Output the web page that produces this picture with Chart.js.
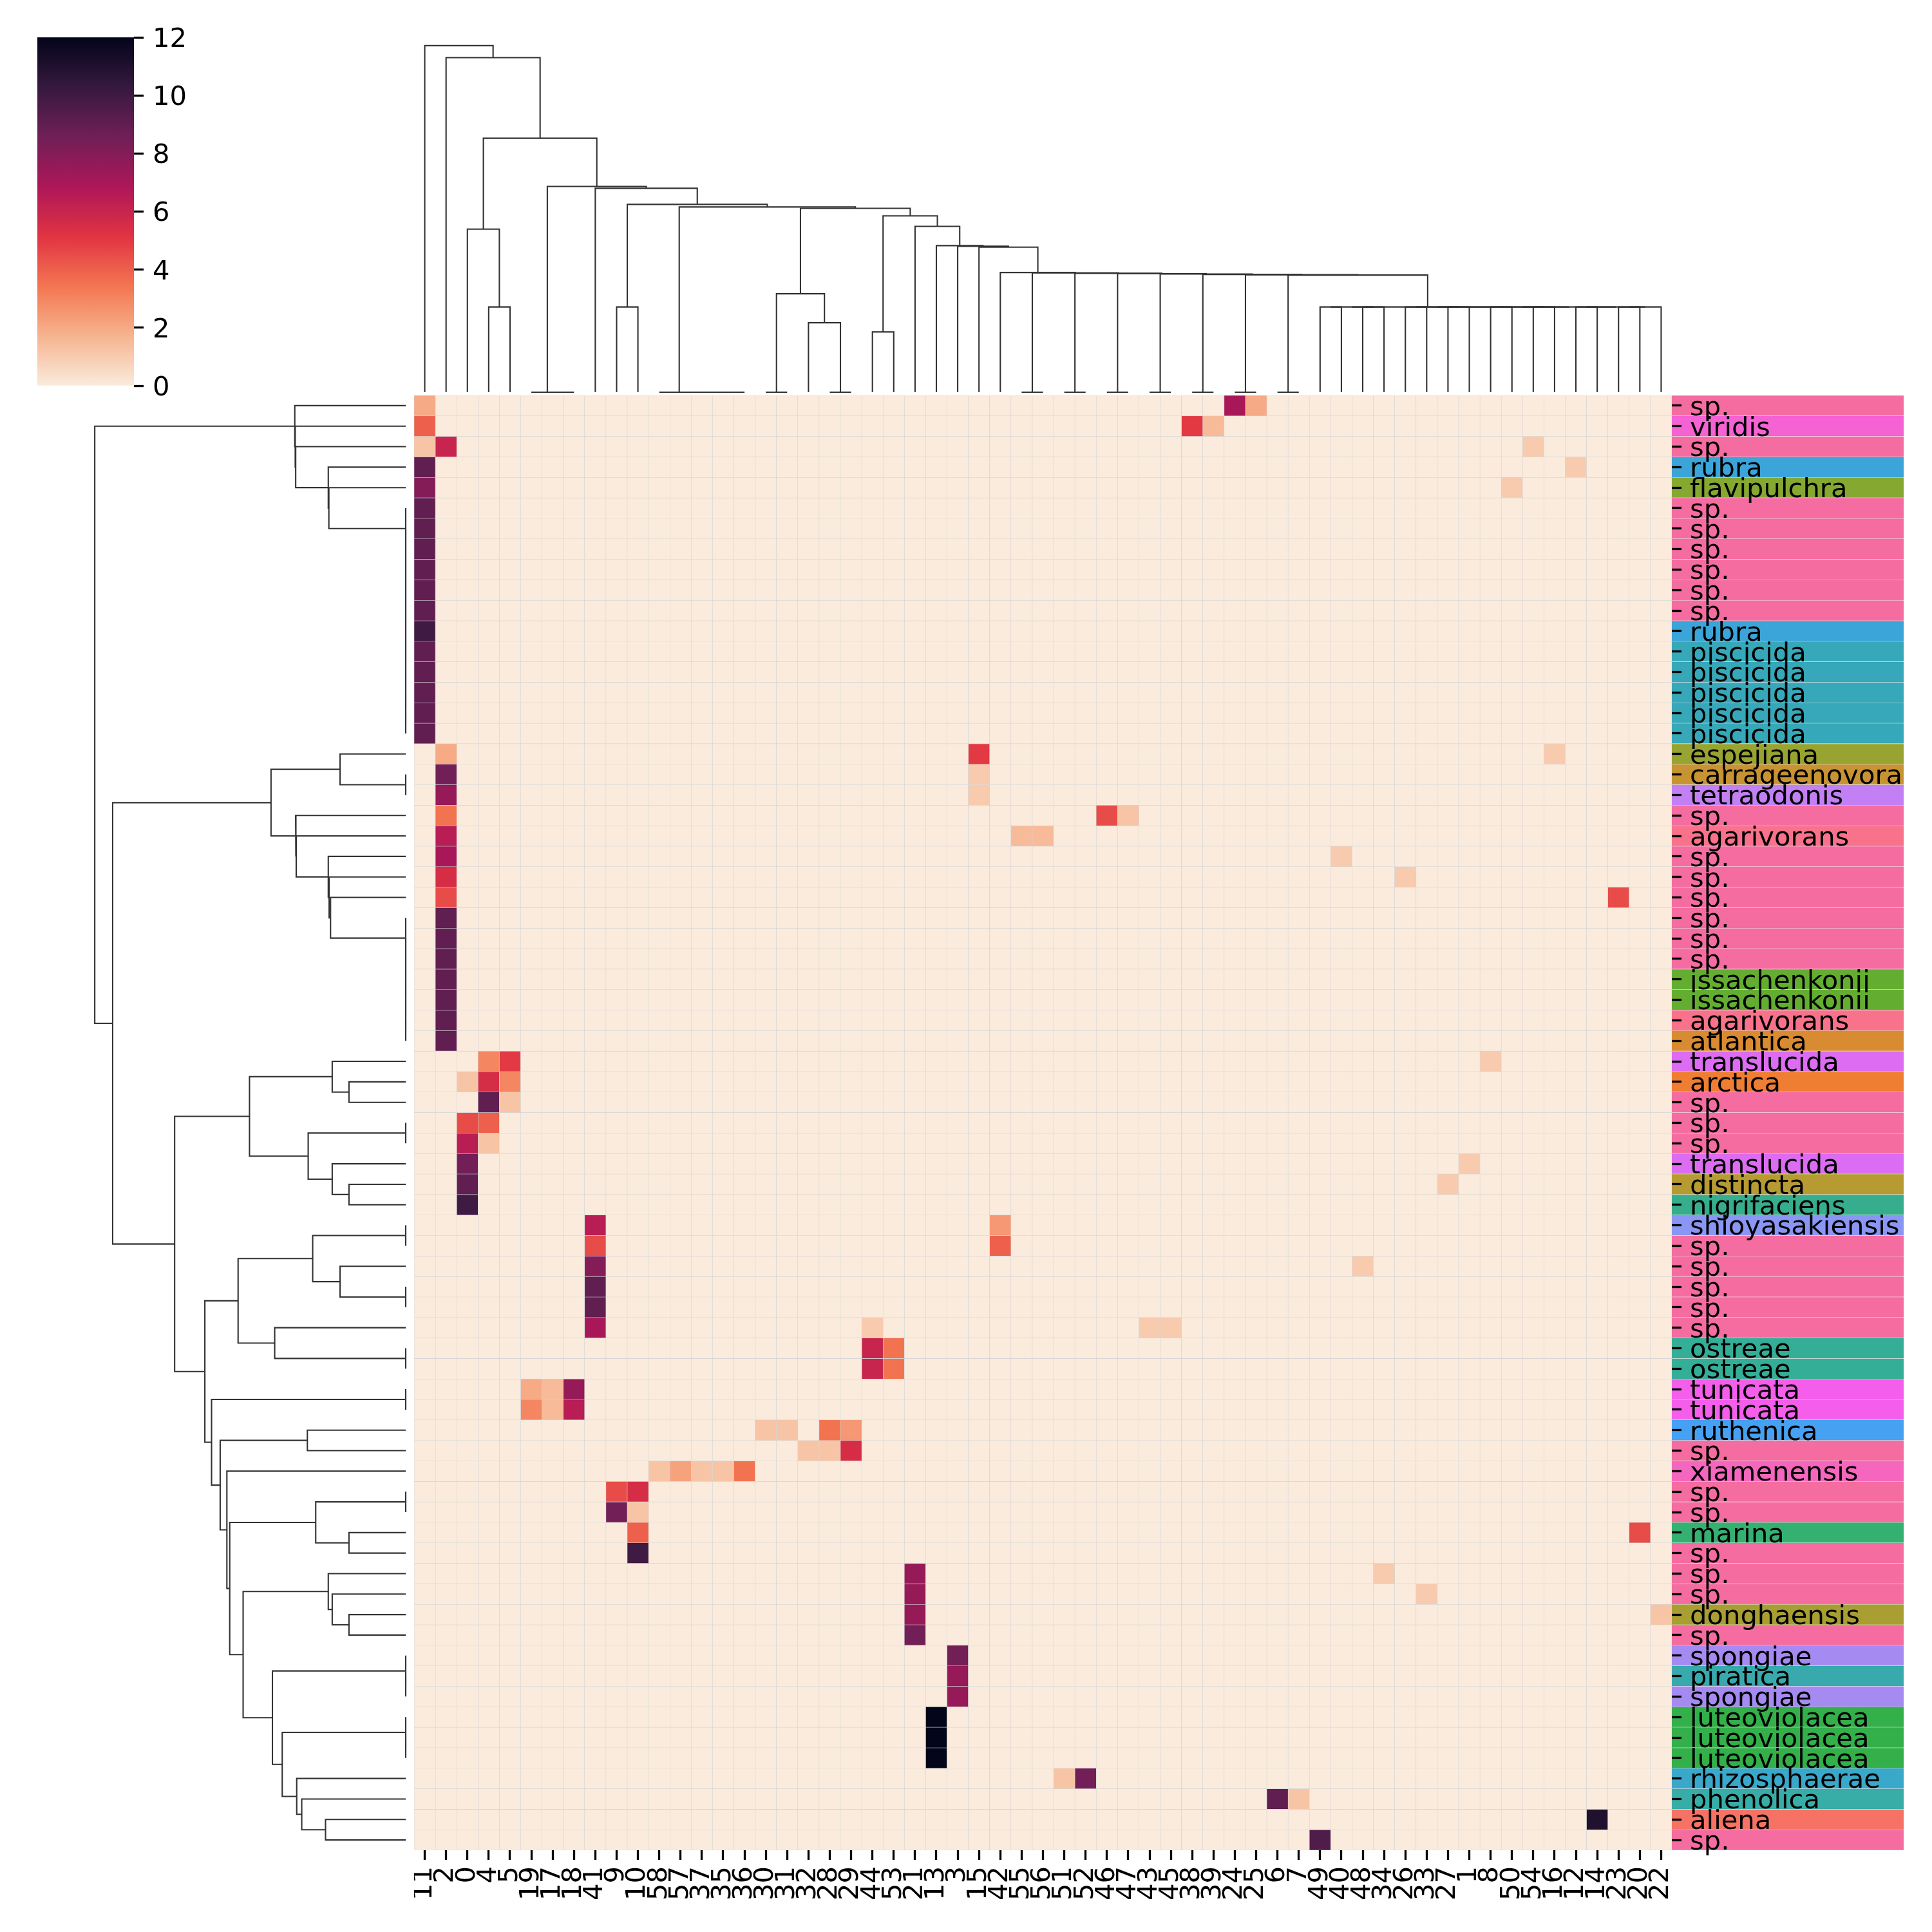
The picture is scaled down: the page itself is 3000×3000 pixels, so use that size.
<!DOCTYPE html>
<html><head><meta charset="utf-8">
<script src="https://cdn.jsdelivr.net/npm/chart.js@4.4.1/dist/chart.umd.min.js"></script>
<style>
html,body{margin:0;padding:0;background:#fff;}
#wrap{position:relative;width:3000px;height:3000px;background:#fff;overflow:hidden;}
canvas{position:absolute;}
</style></head><body><div id="wrap">
<canvas id="strip" style="left:2596px;top:614px" width="360" height="2259"></canvas>
<canvas id="heat" style="left:643px;top:614px" width="2357" height="2386"></canvas>
<canvas id="coldend" style="left:643px;top:44px" width="1953" height="568"></canvas>
<canvas id="rowdend" style="left:123px;top:614px" width="510" height="2259"></canvas>
<canvas id="cbar" style="left:58px;top:0px" width="300" height="640"></canvas>
</div>
<script>
// ---------------- DATA ----------------
const colLabels = ['11','2','0','4','5','19','17','18','41','9','10','58','57','37','35','36','30','31','32','28','29','44','53','21','13','3','15','42','55','56','51','52','46','47','43','45','38','39','24','25','6','7','49','40','48','34','26','33','27','1','8','50','54','16','12','14','23','20','22'];

const rowLabels = ['sp.','viridis','sp.','rubra','flavipulchra','sp.','sp.','sp.','sp.','sp.','sp.','rubra','piscicida','piscicida','piscicida','piscicida','piscicida','espejiana','carrageenovora','tetraodonis','sp.','agarivorans','sp.','sp.','sp.','sp.','sp.','sp.','issachenkonii','issachenkonii','agarivorans','atlantica','translucida','arctica','sp.','sp.','sp.','translucida','distincta','nigrifaciens','shioyasakiensis','sp.','sp.','sp.','sp.','sp.','ostreae','ostreae','tunicata','tunicata','ruthenica','sp.','xiamenensis','sp.','sp.','marina','sp.','sp.','sp.','donghaensis','sp.','spongiae','piratica','spongiae','luteoviolacea','luteoviolacea','luteoviolacea','rhizosphaerae','phenolica','aliena','sp.'];

const speciesColors = {
  'sp.':'#f56ca0','viridis':'#f562d4','rubra':'#3ba4d9','flavipulchra':'#85a831','piscicida':'#37a8b9',
  'espejiana':'#98a431','carrageenovora':'#c89433','tetraodonis':'#c280f4','agarivorans':'#f7728a',
  'issachenkonii':'#63ae31','atlantica':'#d98b32','translucida':'#dc6cf2','arctica':'#ef7e33',
  'distincta':'#b69b33','nigrifaciens':'#36ae8d','shioyasakiensis':'#8996f4','ostreae':'#35ae97',
  'tunicata':'#f45eeb','ruthenica':'#47a1f2','xiamenensis':'#f567bf','marina':'#34b071',
  'donghaensis':'#a89e32','spongiae':'#a58af2','piratica':'#38aaae','luteoviolacea':'#33b04a',
  'rhizosphaerae':'#3aa8ca','phenolica':'#38ada7','aliena':'#f67264'
};

// non-zero cells: [row, column position, value]
const cellValues = [
 [0,0,2],[0,38,7],[0,39,2],
 [1,0,4],[1,36,5],[1,37,1.5],
 [2,0,1.2],[2,1,6],[2,52,1],
 [3,0,9],[3,54,1],
 [4,0,8],[4,51,1],
 [5,0,9],[6,0,9],[7,0,9],[8,0,9],[9,0,9],[10,0,9],
 [11,0,10],
 [12,0,9],[13,0,9],[14,0,9],[15,0,9],[16,0,9],
 [17,1,2],[17,26,5],[17,53,1],
 [18,1,8.5],[18,26,1],
 [19,1,7.5],[19,26,1],
 [20,1,3.5],[20,32,4.5],[20,33,1.2],
 [21,1,6.5],[21,28,1.5],[21,29,1.5],
 [22,1,7],[22,43,1],
 [23,1,5.5],[23,46,1],
 [24,1,4.5],[24,56,4.5],
 [25,1,9],[26,1,9],[27,1,9],[28,1,9],[29,1,9],[30,1,9],[31,1,9],
 [32,3,3],[32,4,5],[32,50,1],
 [33,2,1.2],[33,3,5.5],[33,4,3],
 [34,3,9],[34,4,1.2],
 [35,2,4.5],[35,3,4],
 [36,2,6.5],[36,3,1.2],
 [37,2,8.5],[37,49,1],
 [38,2,9],[38,48,1],
 [39,2,10],
 [40,8,6.5],[40,27,2.5],
 [41,8,4.5],[41,27,4],
 [42,8,8],[42,44,1],
 [43,8,9],[44,8,9],
 [45,8,7],[45,21,1],[45,34,1],[45,35,1],
 [46,21,6],[46,22,3.5],
 [47,21,6],[47,22,3.5],
 [48,5,2],[48,6,1.5],[48,7,7.5],
 [49,5,3],[49,6,1.5],[49,7,6.5],
 [50,16,1.2],[50,17,1.2],[50,19,3.5],[50,20,2.5],
 [51,18,1.2],[51,19,1.2],[51,20,5.5],
 [52,11,1.2],[52,12,2.2],[52,13,1.2],[52,14,1.2],[52,15,3.5],
 [53,9,4.5],[53,10,5.5],
 [54,9,8.5],[54,10,1.2],
 [55,10,4],[55,57,4.5],
 [56,10,10],
 [57,23,7.5],[57,45,1],
 [58,23,7.5],[58,47,1],
 [59,23,7.5],[59,58,1.2],
 [60,23,8.5],
 [61,25,8.5],[62,25,7.5],[63,25,7.5],
 [64,24,12],[65,24,12],[66,24,12],
 [67,30,1.2],[67,31,8.5],
 [68,40,9],[68,41,1.2],
 [69,55,11],
 [70,42,9.5]
];

const cbarTicks = [0,2,4,6,8,10,12];
const cbarMin = 0, cbarMax = 12;

// dendrograms: [mergeHeight, left, right]; integers are leaf positions
const colFlat17 = [1.323,[1.323,[1.323,42,43],[1.323,44,45]],[1.323,[1.323,[1.323,46,47],[1.323,48,49]],[1.323,[1.323,[1.323,50,51],[1.323,52,53]],[1.323,[1.323,54,55],[1.323,[1.323,56,57],58]]]]];
const colChain = [1.851,[0,28,29],[1.845,[0,30,31],[1.839,[0,32,33],[1.833,[0,34,35],[1.827,[0,36,37],[1.822,[0,38,39],[1.817,[0,40,41],colFlat17]]]]]]];
const colP = [2.572,23,[2.274,24,[2.264,25,[2.251,26,[1.857,27,colChain]]]]];
const colK = [2.853,[1.527,[0,16,17],[1.078,18,[0,19,20]]],[2.735,[0.935,21,22],colP]];
const colH = [2.914,[1.323,9,10],[2.874,[0,11,[0,12,[0,13,[0,14,15]]]],colK]];
const colE = [3.192,[0,5,[0,6,7]],[3.163,8,colH]];
const colTree = [5.376,0,[5.19,1,[3.94,[2.53,2,[1.323,3,4]],colE]]];

const rowFlat12 = [0,5,[0,6,[0,7,[0,8,[0,9,[0,10,[0,11,[0,12,[0,13,[0,14,[0,15,16]]]]]]]]]]];
const rowA = [1.722,0,[1.715,1,[1.708,2,[1.202,3,[1.193,4,rowFlat12]]]]];
const rowFlat7 = [0,25,[0,26,[0,27,[0,28,[0,29,[0,30,31]]]]]];
const rowB1 = [2.091,[1.019,17,[0,18,19]],[1.709,20,[1.70,21,[1.202,22,[1.189,23,[1.167,24,rowFlat7]]]]]];
const rowB2a = [2.425,[1.141,32,[0.881,33,34]],[1.514,[0,35,36],[1.141,37,[0.881,38,39]]]];
const rowB2b1 = [2.602,[1.444,[0,40,41],[1.019,42,[0,43,44]]],[2.034,45,[0,46,47]]];
const rowU2b = [2.069,[0,61,[0,62,63]],[1.917,[0,64,[0,65,66]],[1.692,67,[1.614,68,[1.245,69,70]]]]];
const rowU = [2.732,[1.397,[0,53,54],[0.881,55,56]],[2.524,[1.202,57,[1.141,58,[0.881,59,60]]],rowU2b]];
const rowB2b2 = [3.014,[0,48,49],[2.88,[1.527,50,51],[2.776,52,rowU]]];
const rowTree = [4.827,rowA,[4.549,rowB1,[3.587,rowB2a,[3.118,rowB2b1,rowB2b2]]]];

// ---------------- HELPERS ----------------
Chart.defaults.font.family = "'DejaVu Sans'";
Chart.defaults.font.size = 41.7;
Chart.defaults.color = '#000';
const FONT = {family:"'DejaVu Sans'", size:41.7};
const TREE_COLOR = '#333333';

const rocketStops = ['#03051a','#35193e','#701f57','#ad1759','#e13342','#f37651','#f6b48f','#faebdd'];
function hex2rgb(h){return [parseInt(h.slice(1,3),16),parseInt(h.slice(3,5),16),parseInt(h.slice(5,7),16)];}
function rocketR(v){
  const t = 1 - Math.max(0, Math.min(1, (v - cbarMin)/(cbarMax - cbarMin)));
  const n = rocketStops.length - 1;
  const i = Math.min(n - 1, Math.floor(t*n));
  const f = t*n - i;
  const a = hex2rgb(rocketStops[i]), b = hex2rgb(rocketStops[i+1]);
  const c = a.map((x,k)=>Math.round(x + (b[k]-x)*f));
  return `rgb(${c[0]},${c[1]},${c[2]})`;
}
function buildLinks(tree){
  const links = [];
  (function walk(node){
    if (typeof node === 'number') return {pos: node + 0.5, h: 0};
    const [h, a, b] = node;
    const L = walk(a), R = walk(b);
    links.push({x1:L.pos, h1:L.h, x2:R.pos, h2:R.h, h});
    return {pos:(L.pos + R.pos)/2, h};
  })(tree);
  return links;
}
function zeroPad(s){ s.paddingLeft = 0; s.paddingRight = 0; s.paddingTop = 0; s.paddingBottom = 0; }
const base = {responsive:false, animation:false, devicePixelRatio:1,
  plugins:{legend:{display:false}, tooltip:{enabled:false}}};

// ---------------- HEATMAP ----------------
const matrix = rowLabels.map(() => colLabels.map(() => 0));
cellValues.forEach(([r,c,v]) => { matrix[r][c] = v; });
const nRows = rowLabels.length;

new Chart(document.getElementById('heat'), {
  type:'bar',
  data:{
    labels: colLabels,
    datasets: matrix.map(row => ({
      data: row.map(() => 1),
      backgroundColor: row.map(v => rocketR(v)),
      borderColor: 'rgba(212,212,212,1)',
      borderWidth: 0.6,
      borderSkipped: false,
      barPercentage: 1, categoryPercentage: 1,
      stack: 'cells'
    }))
  },
  options:{...base,
    layout:{padding:0},
    scales:{
      x:{type:'category', stacked:true, offset:true,
        border:{display:false},
        grid:{display:true, drawOnChartArea:false, drawTicks:true, tickLength:15, tickWidth:3.3, tickColor:'#000', offset:false},
        ticks:{autoSkip:false, minRotation:90, maxRotation:90, padding:10, font:FONT, color:'#000'},
        afterFit:(s)=>{ s.height = 3000 - 2873; zeroPad(s); }
      },
      y:{type:'linear', position:'right', stacked:true, reverse:true, min:0, max:nRows,
        border:{display:false},
        grid:{display:true, drawOnChartArea:false, drawTicks:true, tickLength:15, tickWidth:3.3, tickColor:'#000'},
        afterBuildTicks:(s)=>{ s.ticks = rowLabels.map((_,i)=>({value:i+0.5})); },
        ticks:{autoSkip:false, padding:13, labelOffset:4, font:FONT, color:'#000',
          callback:(v)=>rowLabels[Math.floor(v)]},
        afterFit:(s)=>{ s.width = 3000 - 2596; zeroPad(s); }
      }
    }
  }
});

// ---------------- ROW COLOUR STRIP ----------------
new Chart(document.getElementById('strip'), {
  type:'bar',
  data:{
    labels: rowLabels.map((_,i)=>i),
    datasets:[{
      data: rowLabels.map(() => 1),
      backgroundColor: rowLabels.map(n => speciesColors[n]),
      borderColor: 'rgba(225,225,225,0.7)',
      borderWidth: {top:0.6, bottom:0.6, left:0, right:0},
      borderSkipped: false,
      barPercentage:1, categoryPercentage:1
    }]
  },
  options:{...base, indexAxis:'y', layout:{padding:0},
    scales:{
      y:{type:'category', display:false, offset:true},
      x:{type:'linear', display:false, min:0, max:1}
    }
  }
});

// ---------------- COLUMN DENDROGRAM ----------------
const colLinks = buildLinks(colTree);
new Chart(document.getElementById('coldend'), {
  type:'scatter',
  data:{datasets: colLinks.map(l => ({
    data:[{x:l.x1,y:l.h1},{x:l.x1,y:l.h},{x:l.x2,y:l.h},{x:l.x2,y:l.h2}],
    showLine:true, borderColor:TREE_COLOR, borderWidth:2.1, pointRadius:0, tension:0, clip:false
  }))},
  options:{...base, layout:{padding:{left:0,right:0,top:0,bottom:3}},
    scales:{
      x:{type:'linear', display:false, min:0, max:colLabels.length},
      y:{type:'linear', display:false, min:0, max:colTree[0]*1.05}
    }
  }
});

// ---------------- ROW DENDROGRAM ----------------
const rowLinks = buildLinks(rowTree);
new Chart(document.getElementById('rowdend'), {
  type:'scatter',
  data:{datasets: rowLinks.map(l => ({
    data:[{x:l.h1,y:l.x1},{x:l.h,y:l.x1},{x:l.h,y:l.x2},{x:l.h2,y:l.x2}],
    showLine:true, borderColor:TREE_COLOR, borderWidth:2.1, pointRadius:0, tension:0, clip:false
  }))},
  options:{...base, layout:{padding:{left:0,right:3,top:0,bottom:0}},
    scales:{
      x:{type:'linear', display:false, reverse:true, min:0, max:rowTree[0]*1.05},
      y:{type:'linear', display:false, reverse:true, min:0, max:nRows}
    }
  }
});

// ---------------- COLOUR BAR ----------------
new Chart(document.getElementById('cbar'), {
  type:'bar',
  data:{labels:['cbar'], datasets:[{
    data:[[cbarMin, cbarMax]],
    barPercentage:1, categoryPercentage:1, borderWidth:0,
    backgroundColor:(c)=>{
      const ch = c.chart; if (!ch.chartArea) return '#fff';
      const ys = ch.scales.y;
      const g = ch.ctx.createLinearGradient(0, ys.getPixelForValue(cbarMin), 0, ys.getPixelForValue(cbarMax));
      for (let i = 0; i <= 60; i++) { const v = cbarMin + (cbarMax - cbarMin)*i/60; g.addColorStop(i/60, rocketR(v)); }
      return g;
    }
  }]},
  options:{...base, layout:{padding:{left:0, right:0, top:58, bottom:41}},
    scales:{
      x:{type:'category', display:false, offset:true},
      y:{type:'linear', position:'right', min:cbarMin, max:cbarMax,
        border:{display:false},
        grid:{display:true, drawOnChartArea:false, drawTicks:true, tickLength:15, tickWidth:3.3, tickColor:'#000'},
        afterBuildTicks:(s)=>{ s.ticks = cbarTicks.map(v=>({value:v})); },
        ticks:{padding:14, labelOffset:4, font:FONT, color:'#000'},
        afterFit:(s)=>{ s.width = 300 - 150; zeroPad(s); }
      }
    }
  }
});
</script>
</body></html>
